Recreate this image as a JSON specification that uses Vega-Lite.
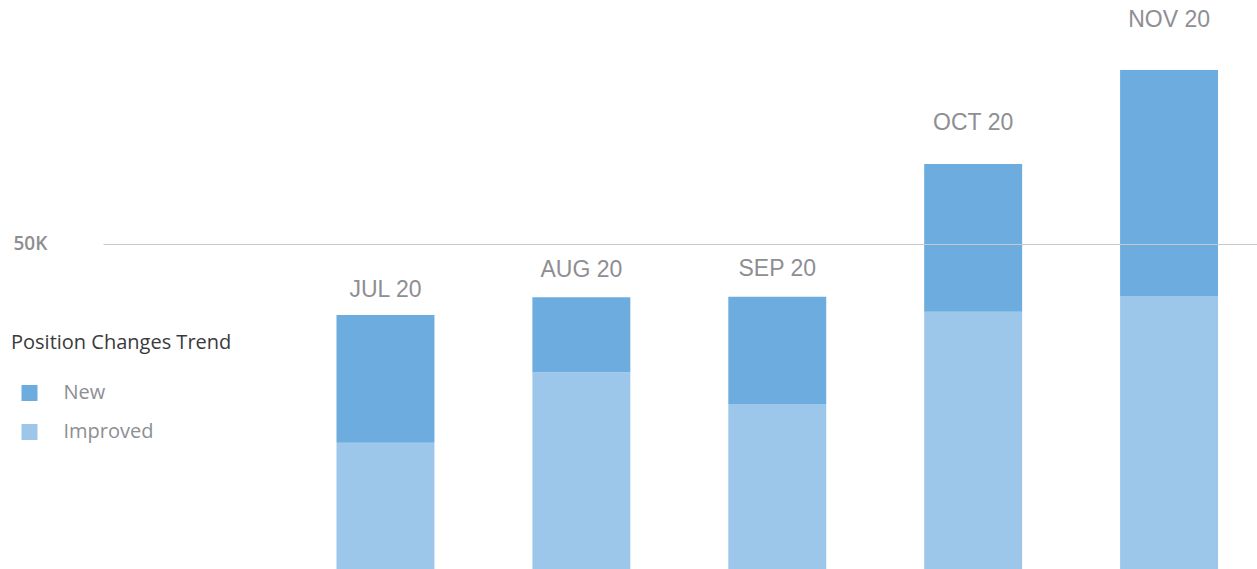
{
  "$schema": "https://vega.github.io/schema/vega-lite/v6.json",
  "autosize": {"type": "none"},
  "padding": {"left": 103, "top": 0, "right": 0, "bottom": 0},
  "width": 1154,
  "height": 569,
  "background": "white",
  "config": {"view": {"stroke": null}},
  "data": {
    "values": [
      {"month": "JUL 20", "type": "Improved", "value": 19430},
      {"month": "JUL 20", "type": "New", "value": 19650},
      {"month": "AUG 20", "type": "Improved", "value": 30260},
      {"month": "AUG 20", "type": "New", "value": 11540},
      {"month": "SEP 20", "type": "Improved", "value": 25380},
      {"month": "SEP 20", "type": "New", "value": 16510},
      {"month": "OCT 20", "type": "Improved", "value": 39580},
      {"month": "OCT 20", "type": "New", "value": 22730},
      {"month": "NOV 20", "type": "Improved", "value": 42000},
      {"month": "NOV 20", "type": "New", "value": 34770}
    ]
  },
  "layer": [
    {
      "mark": {"type": "bar"},
      "encoding": {
        "x": {
          "field": "month", "type": "nominal", "sort": null,
          "scale": {"paddingInner": 0.5, "paddingOuter": 0.6954, "align": 0.857},
          "axis": null
        },
        "y": {
          "field": "value", "type": "quantitative", "stack": "zero",
          "scale": {"domain": [0, 87538], "nice": false, "zero": true},
          "axis": {
            "values": [50000],
            "labelExpr": "'50K'",
            "ticks": false,
            "tickSize": 0,
            "domain": false,
            "labelAlign": "left",
            "labelBaseline": "middle",
            "labelPadding": 90,
            "labelFont": "Open Sans",
            "labelFontSize": 19,
            "labelFontWeight": 600,
            "labelColor": "#8e8e93",
            "grid": true,
            "gridColor": "#c7c7cc",
            "gridWidth": 1,
            "zindex": 1,
            "title": null
          }
        },
        "color": {
          "field": "type", "type": "nominal",
          "scale": {"domain": ["New", "Improved"], "range": ["#6dacde", "#9dc7ea"]},
          "legend": {
            "orient": "none",
            "legendX": -92,
            "legendY": 333,
            "title": "Position Changes Trend",
            "titleFont": "Open Sans",
            "titleFontSize": 20,
            "titleFontWeight": "normal",
            "titleColor": "#3a3a3c",
            "titleLimit": 500,
            "titlePadding": 30,
            "labelFont": "Open Sans",
            "labelFontSize": 20,
            "labelColor": "#8e8e93",
            "labelOffset": 24,
            "labelLimit": 300,
            "symbolOffset": 8.5,
            "symbolType": "square",
            "symbolSize": 256,
            "symbolStrokeWidth": 0,
            "rowPadding": 19
          }
        },
        "order": {"field": "type", "sort": "ascending"}
      }
    },
    {
      "mark": {"type": "text", "font": "Liberation Sans", "fontSize": 23, "color": "#8e8e93", "baseline": "middle", "align": "center"},
      "encoding": {
        "x": {"field": "month", "type": "nominal", "sort": null},
        "y": {
          "aggregate": "sum", "field": "value", "type": "quantitative",
          "scale": {"domain": [0, 79580], "nice": false},
          "axis": null
        },
        "text": {"field": "month", "type": "nominal"}
      }
    }
  ],
  "resolve": {"scale": {"y": "independent"}}
}
